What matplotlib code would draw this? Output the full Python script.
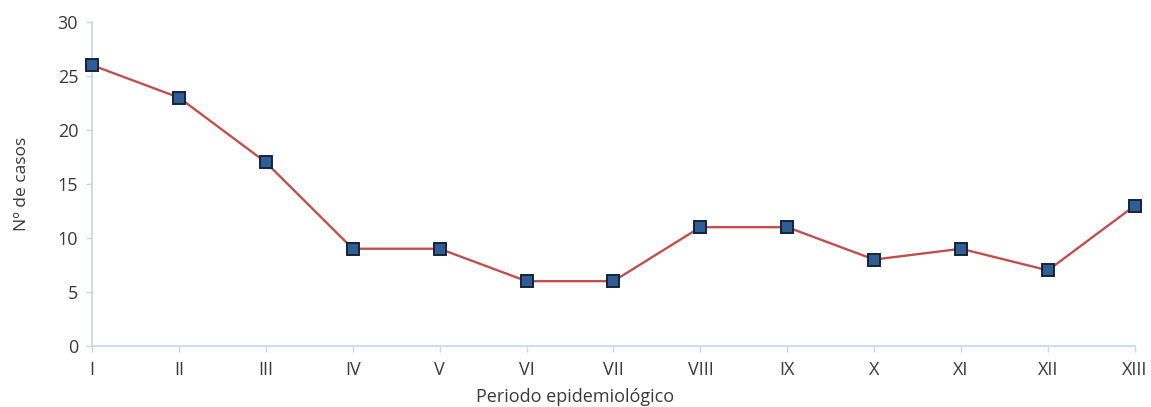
import matplotlib
matplotlib.use("Agg")
import matplotlib.pyplot as plt

periods = ["I", "II", "III", "IV", "V", "VI", "VII", "VIII", "IX", "X", "XI", "XII", "XIII"]
cases = [26, 23, 17, 9, 9, 6, 6, 11, 11, 8, 9, 7, 13]
y_ticks = [0, 5, 10, 15, 20, 25, 30]

plt.rcParams["font.family"] = ["Open Sans", "DejaVu Sans"]

fig = plt.figure(figsize=(11.51, 4.07), dpi=100)
ax = fig.add_axes([0.080, 0.150, 0.906, 0.796])

x = list(range(len(periods)))
ax.plot(x, cases, color="#C0504D", linewidth=1.7, zorder=2, clip_on=False)
ax.plot(x, cases, linestyle="none", marker="s", markersize=9.2,
        markerfacecolor="#2F5D95", markeredgecolor="#14243C", markeredgewidth=1.4,
        zorder=3, clip_on=False)

ax.set_xlim(0, len(periods) - 1)
ax.set_ylim(0, 30)
ax.set_xticks(x)
ax.set_xticklabels(periods)
ax.set_yticks(y_ticks)

axis_color = "#C6D6EC"
for side in ("top", "right"):
    ax.spines[side].set_visible(False)
for side in ("left", "bottom"):
    ax.spines[side].set_color(axis_color)
    ax.spines[side].set_linewidth(1.2)

ax.tick_params(axis="both", colors=axis_color, labelcolor="#3A3A3A", labelsize=13,
               length=4, width=1)
ax.tick_params(axis="x", pad=7)
ax.tick_params(axis="y", pad=6)

ax.set_ylabel("Nº de casos", fontsize=12.5, color="#3A3A3A", labelpad=20)
fig.text(575 / 1151, 1 - 397 / 407, "Periodo epidemiológico", fontsize=13,
         color="#3A3A3A", ha="center", va="center")

fig.savefig("out.png", dpi=100, facecolor="white")
